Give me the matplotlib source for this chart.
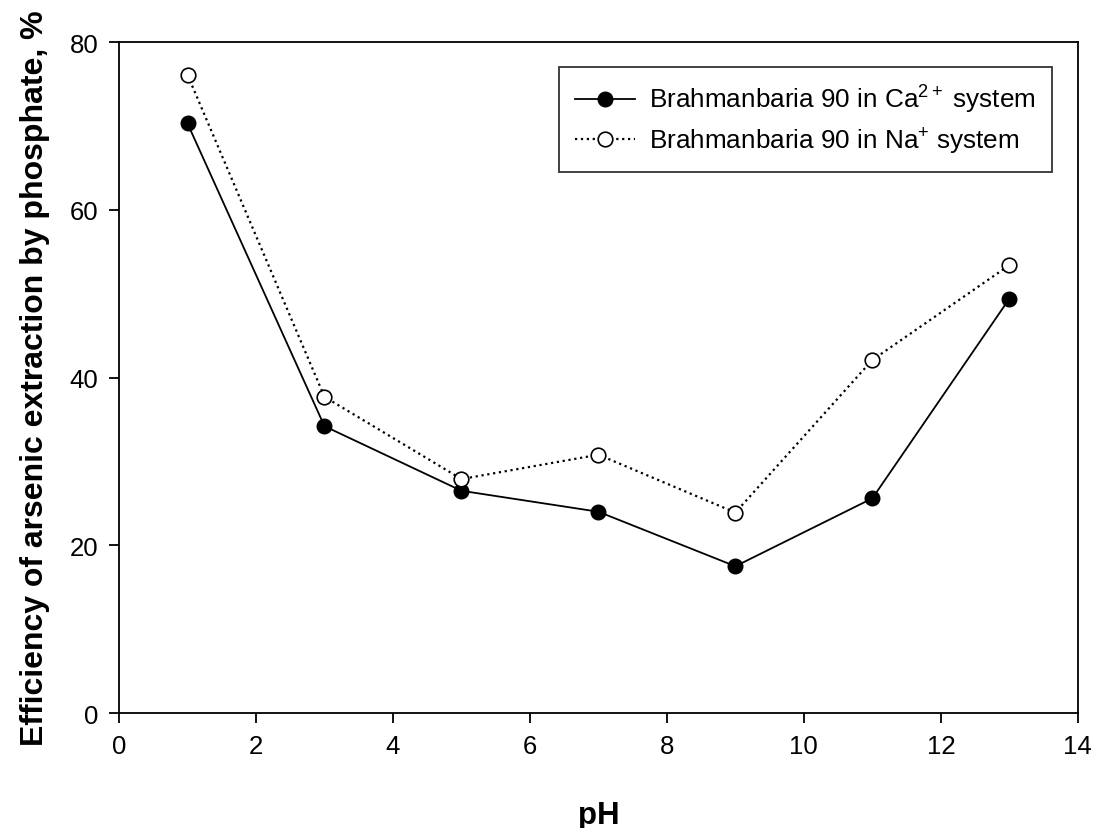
import matplotlib
matplotlib.use("Agg")
import matplotlib.pyplot as plt

plt.rcParams['font.family'] = ['Liberation Sans', 'DejaVu Sans']
plt.rcParams['mathtext.fontset'] = 'custom'
plt.rcParams['mathtext.rm'] = 'Liberation Sans'
plt.rcParams['mathtext.it'] = 'Liberation Sans'
plt.rcParams['mathtext.bf'] = 'Liberation Sans:bold'

ph = [1, 3, 5, 7, 9, 11, 13]
ca = [70.3, 34.2, 26.5, 24.0, 17.5, 25.6, 49.4]
na = [76.1, 37.7, 27.9, 30.8, 23.9, 42.1, 53.4]
xticks = [0, 2, 4, 6, 8, 10, 12, 14]
yticks = [0, 20, 40, 60, 80]

fig = plt.figure(figsize=(10.97, 8.29), dpi=100)
ax = fig.add_axes([0.1085, 0.1387, 0.874, 0.8093])

ax.plot(ph, ca, '-', color='black', lw=1.3, marker='o', ms=10.5,
        mfc='black', mec='black', label=r'Brahmanbaria 90 in Ca$^{\mathregular{2+}}$ system')
ax.plot(ph, na, ':', color='black', lw=1.6, marker='o', ms=10.5,
        mfc='white', mec='black', mew=1.2, label=r'Brahmanbaria 90 in Na$^{\mathregular{+}}$ system')

ax.set_xlim(0, 14)
ax.set_ylim(0, 80)
ax.set_xticks(xticks)
ax.set_yticks(yticks)
ax.tick_params(direction='out', length=7, width=1.3, labelsize=18.5, pad=8,
               top=False, right=False)
for s in ax.spines.values():
    s.set_linewidth(1.3)

ax.set_xlabel('pH', fontsize=22.5, fontweight='bold', labelpad=30)
ax.set_ylabel('Efficiency of arsenic extraction by phosphate, %', fontsize=23,
              fontweight='bold', labelpad=14)

leg = ax.legend(loc='upper right', bbox_to_anchor=(0.9735, 0.963), fontsize=18.8,
                frameon=True, fancybox=False, edgecolor='black',
                handlelength=2.3, handletextpad=0.55, borderpad=0.62,
                labelspacing=0.4, borderaxespad=0)
leg.get_frame().set_linewidth(1.3)

fig.savefig('out.png', dpi=100)
